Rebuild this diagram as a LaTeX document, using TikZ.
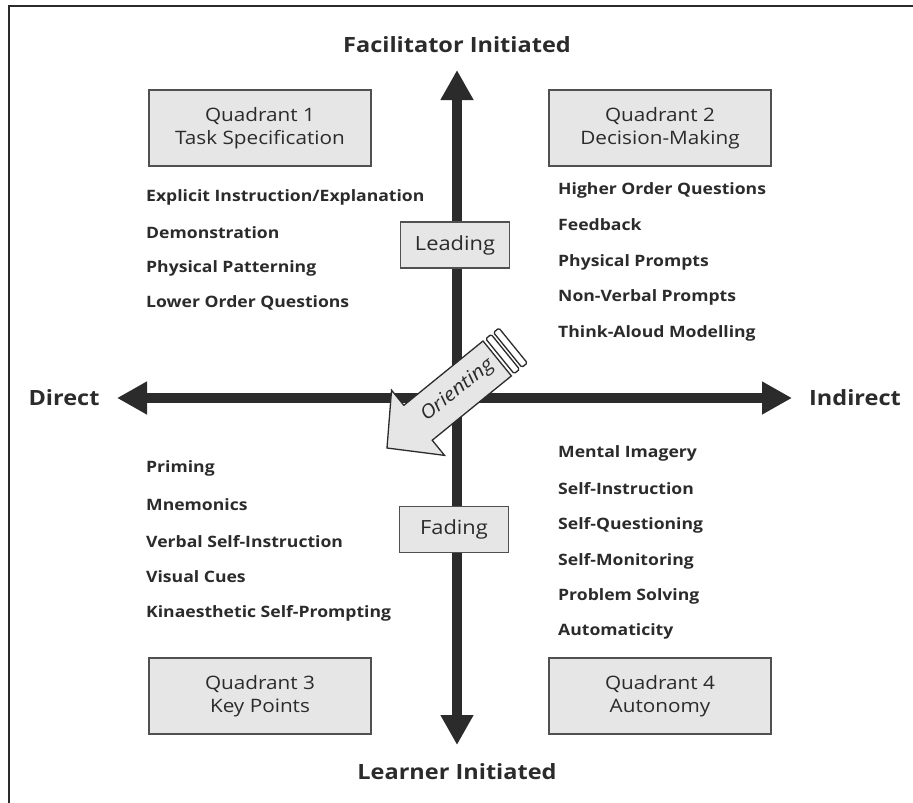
\documentclass[tikz,border=0pt]{standalone}
\usepackage{fontspec}
\setmainfont[FakeStretch=1.12]{Open Sans}
\usetikzlibrary{arrows.meta}
\definecolor{ink}{HTML}{2B2B2B}
\definecolor{boxfill}{HTML}{E6E6E6}
\definecolor{boxline}{HTML}{505050}
\begin{document}
\begin{tikzpicture}[x=1pt,y=1pt,
 quad/.style={draw=boxline, line width=1.5pt, fill=boxfill, minimum width=222pt, minimum height=76pt, align=center, font=\fontsize{18.5}{23}\selectfont, text=ink},
 tag/.style={draw=boxline, line width=1.5pt, fill=boxfill, minimum width=109pt, minimum height=46pt, font=\fontsize{19.5}{22}\selectfont, text=ink},
 item/.style={anchor=west, font=\bfseries\fontsize{15.7}{18}\selectfont, text=ink, inner sep=0pt},
 axislabel/.style={font=\bfseries\fontsize{21}{24}\selectfont, text=ink},
 axisline/.style={line width=10pt, draw=ink, {Triangle[length=30pt,width=31pt]}-{Triangle[length=30pt,width=31pt]}},
 bandbox/.style={draw=ink, line width=1.3pt, fill=white, rounded corners=1.5pt}
]
\useasboundingbox (0,0) rectangle (913,-803);
% frame
\draw[ink, line width=2pt] (8.5,-803) -- (8.5,-6) -- (913,-6);

% axis labels
\node[axislabel] (top) at (457,-45) {Facilitator Initiated};
\node[axislabel] (bottom) at (457,-772) {Learner Initiated};
\node[axislabel] (left) at (64,-398) {Direct};
\node[axislabel] (right) at (855,-398) {Indirect};

% axes
\coordinate (vt) at (457,-70);
\coordinate (vb) at (457,-745);
\coordinate (hl) at (117,-398);
\coordinate (hr) at (792,-398);
\draw[axisline] (vb) -- (vt);
\draw[axisline] (hl) -- (hr);

% quadrant boxes
\node[quad] (q1) at (260,-128) {Quadrant 1\\Task Specification};
\node[quad] (q2) at (660,-128) {Quadrant 2\\Decision-Making};
\node[quad] (q3) at (260,-696) {Quadrant 3\\Key Points};
\node[quad] (q4) at (660,-696) {Quadrant 4\\Autonomy};

% tags on vertical axis
\node[tag] (leading) at (455,-245) {Leading};
\node[tag] (fading) at (454,-529.5) {Fading};

% lists
\node[item] (a1) at (146,-197) {Explicit Instruction/Explanation};
\node[item] (a2) at (146,-233) {Demonstration};
\node[item] (a3) at (146,-268) {Physical Patterning};
\node[item] (a4) at (146,-303) {Lower Order Questions};

\node[item] (b1) at (558,-190) {Higher Order Questions};
\node[item] (b2) at (558,-225) {Feedback};
\node[item] (b3) at (558,-262) {Physical Prompts};
\node[item] (b4) at (558,-297) {Non-Verbal Prompts};
\node[item] (b5) at (558,-333) {Think-Aloud Modelling};

\node[item] (c1) at (146,-468) {Priming};
\node[item] (c2) at (146,-505) {Mnemonics};
\node[item] (c3) at (146,-542) {Verbal Self-Instruction};
\node[item] (c4) at (146,-577) {Visual Cues};
\node[item] (c5) at (146,-613) {Kinaesthetic Self-Prompting};

\node[item] (d1) at (558,-453) {Mental Imagery};
\node[item] (d2) at (558,-489) {Self-Instruction};
\node[item] (d3) at (558,-525) {Self-Questioning};
\node[item] (d4) at (558,-561) {Self-Monitoring};
\node[item] (d5) at (558,-596) {Problem Solving};
\node[item] (d6) at (558,-631) {Automaticity};

% orienting arrow
\begin{scope}[shift={(387,-448)}, rotate=39.1]
\draw[draw=ink, line width=1.3pt, fill=boxfill, line join=miter]
  (0,0) -- (40,42) -- (40,22.5) -- (142,22.5) -- (142,-22.5) -- (40,-22.5) -- (40,-42) -- cycle;
\draw[bandbox] (145.5,-22.5) rectangle (152.5,22.5);
\draw[bandbox] (155.5,-22.5) rectangle (162.5,22.5);
\node[transform shape, font=\itshape\fontsize{19}{22}\selectfont, text=ink] (orient) at (91,0) {Orienting};
\end{scope}
\end{tikzpicture}
\end{document}
